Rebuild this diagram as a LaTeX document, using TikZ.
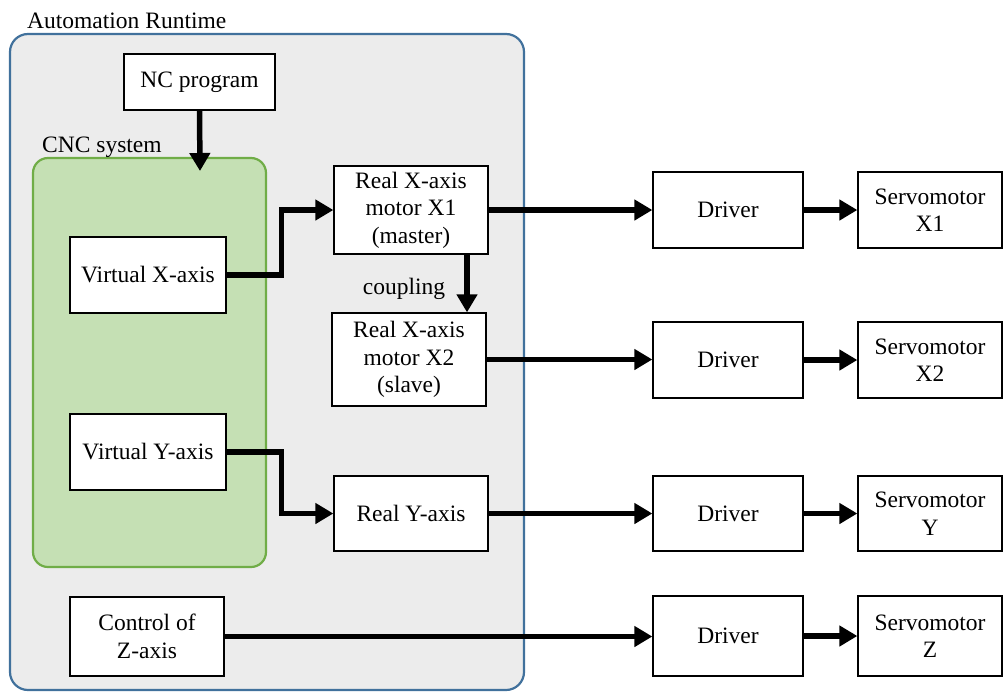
\documentclass[tikz,border=0pt]{standalone}
\usepackage{fontspec}
\setmainfont{Liberation Serif}
\newfontfamily\diagramFont{Liberation Serif}
\usetikzlibrary{arrows.meta}
\tikzstyle{canvas} = [x = 1pt, y = -1pt, every node/.style={font=\diagramFont\fontsize{23.5}{27.5}\selectfont}]
\definecolor{runtimeFill}{RGB}{236,236,236}
\definecolor{runtimeLine}{RGB}{65,113,156}
\definecolor{cncFill}{RGB}{197,224,180}
\definecolor{cncLine}{RGB}{112,173,71}
\tikzstyle{runtimeArea} = [draw=runtimeLine, fill=runtimeFill, line width=2.2pt, rounded corners = 18pt]
\tikzstyle{cncArea} = [draw=cncLine, fill=cncFill, line width=2.2pt, rounded corners = 15pt]
\tikzstyle{blockStyle} = [draw=black, fill=white, line width=1.3pt, align=center, inner sep=0pt]
\tikzstyle{areaText} = [anchor=west, inner sep=0pt]
\tikzstyle{signalArrow} = [line width=5.5pt, -{Triangle[length=18pt, width=20pt]}]
\newcommand{\blockAt}[6]{\node [blockStyle, minimum width={(#4-#2)*1pt}, minimum height={(#5-#3)*1pt}] (#1) at ({(#2+#4)/2}, {(#3+#5)/2}) {#6};}

\begin{document}
\begin{tikzpicture}[canvas]
  \useasboundingbox (0,0) rectangle (1003,691);
  % areas
  \draw [runtimeArea] (10,34) rectangle (524,690);
  \node [areaText] (runtimeLabel) at (27,21) {Automation Runtime};
  \draw [cncArea] (33,158) rectangle (266,567);
  \node [areaText] (cncLabel) at (42,147) {CNC system};
  \coordinate (cncTop) at (200,171);

  % blocks
  \blockAt{ncProgram}{124}{54}{275}{110}{NC program}
  \blockAt{virtualX}{70}{237}{226}{313}{Virtual X-axis}
  \blockAt{virtualY}{70}{414}{226}{490}{Virtual Y-axis}
  \blockAt{controlZ}{70}{597}{224}{676}{Control of\\Z-axis}
  \blockAt{realX1}{334}{166}{488}{254}{Real X-axis\\motor X1\\(master)}
  \blockAt{realX2}{332}{313}{486}{406}{Real X-axis\\motor X2\\(slave)}
  \blockAt{realY}{334}{476}{488}{551}{Real Y-axis}
  \node (couplingLabel) at (404,289) {coupling};

  \foreach \axis/\top/\bottom in {X1/172/248, X2/322/398, Y/476/551, Z/596/676} {
    \blockAt{driver\axis}{653}{\top}{803}{\bottom}{Driver}
    \blockAt{servo\axis}{858}{\top}{1002}{\bottom}{Servomotor\\\axis}
    \draw [signalArrow] (driver\axis.east) -- (servo\axis.west);
  }

  % signals
  \draw [signalArrow] (ncProgram.south) -- (cncTop);
  \draw [signalArrow] (virtualX.east) -- ++(55,0) |- (realX1.west);
  \draw [signalArrow] (virtualY.east) -- ++(55,0) |- (realY.west);
  \draw [signalArrow] ([xshift=56pt]realX1.south) -- ([xshift=56pt]realX1.south |- realX2.north);
  \draw [signalArrow] (realX1.east) -- (driverX1.west);
  \draw [signalArrow] (realX2.east) -- (realX2.east -| driverX2.west);
  \draw [signalArrow] (realY.east) -- (driverY.west);
  \draw [signalArrow] (controlZ.east) -- (controlZ.east -| driverZ.west);
\end{tikzpicture}
\end{document}
